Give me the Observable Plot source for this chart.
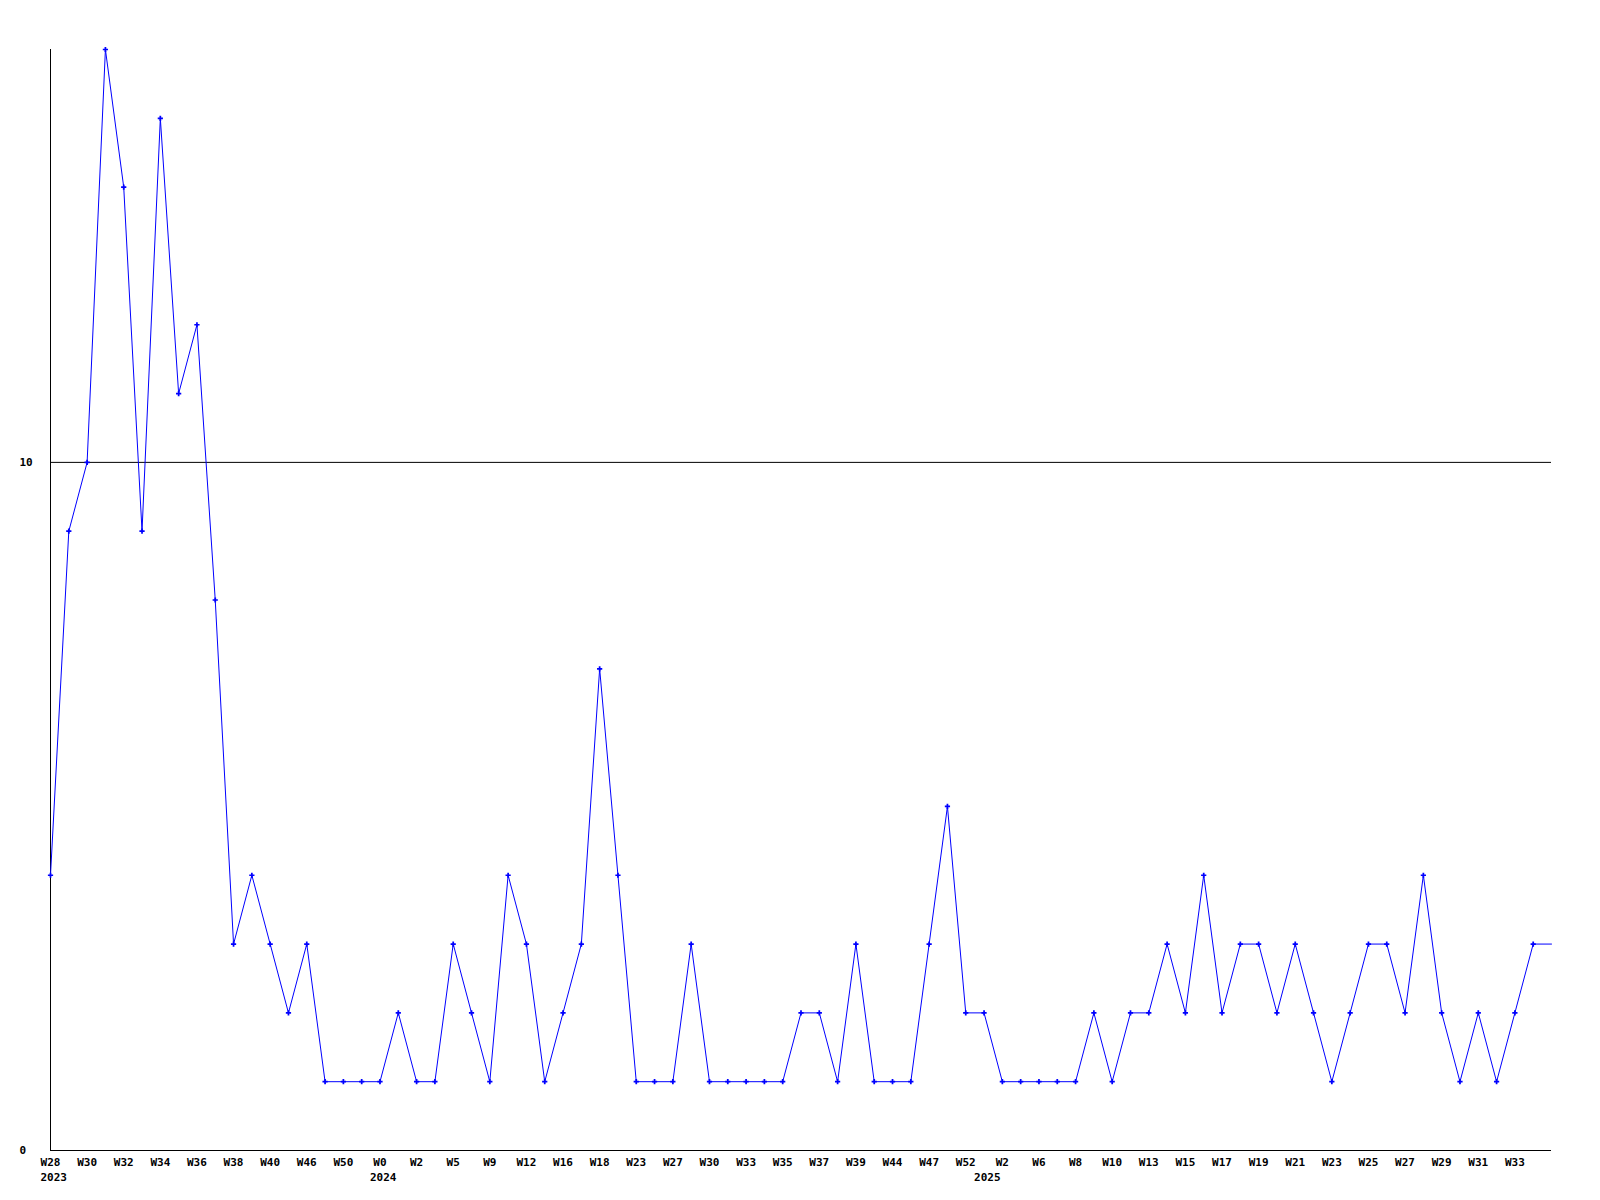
<!DOCTYPE html>
<html>
<head>
<meta charset="utf-8">
<script src="https://cdn.jsdelivr.net/npm/d3@7"></script>
<script src="https://cdn.jsdelivr.net/npm/@observablehq/plot@0.6"></script>
<style>
  html, body { margin: 0; padding: 0; background: #fff; }
  svg { display: block; }
</style>
</head>
<body>
<div id="chart"></div>
<script>
// Weekly counts, one per plotted point (left to right)
const values = [
  4, 9, 10, 16, 14, 9, 15, 11, 12, 8,
  3, 4, 3, 2, 3, 1, 1, 1, 1, 2,
  1, 1, 3, 2, 1, 4, 3, 1, 2, 3,
  7, 4, 1, 1, 1, 3, 1, 1, 1, 1,
  1, 2, 2, 1, 3, 1, 1, 1, 3, 5,
  2, 2, 1, 1, 1, 1, 1, 2, 1, 2,
  2, 3, 2, 4, 2, 3, 3, 2, 3, 2,
  1, 2, 3, 3, 2, 4, 2, 1, 2, 1,
  2, 3
];
// Labels shown under every second point
const weekLabels = [
  "W28","W30","W32","W34","W36","W38","W40","W46","W50","W0",
  "W2","W5","W9","W12","W16","W18","W23","W27","W30","W33",
  "W35","W37","W39","W44","W47","W52","W2","W6","W8","W10",
  "W13","W15","W17","W19","W21","W23","W25","W27","W29","W31","W33"
];
const yearLabels = ["2023", "2024", "2025"];
const yearIndex = [0, 18, 51];
const yTicks = [0, 10];

const points = values.map((v, i) => ({i, v}));
// the line continues flat to the end of the axis
const linePts = points.concat([{i: values.length, v: values[values.length - 1]}]);
const ticks = weekLabels.map((t, k) => ({i: k * 2, t}));
const years = yearLabels.map((t, k) => ({i: yearIndex[k], t}));

const font = "'DejaVu Sans Mono', 'Liberation Mono', monospace";

const chart = Plot.plot({
  width: 1600,
  height: 1200,
  marginLeft: 50,
  marginRight: 49,
  marginTop: 49,
  marginBottom: 50,
  style: {fontFamily: font, fontSize: "11px", fontWeight: "bold", background: "#fff", color: "#000"},
  x: {domain: [0, values.length], axis: null},
  y: {domain: [0, 16], axis: null},
  marks: [
    Plot.ruleY([10], {stroke: "#000", strokeWidth: 1}),
    Plot.ruleY([0], {stroke: "#000", strokeWidth: 1}),
    Plot.ruleX([0], {stroke: "#000", strokeWidth: 1}),
    Plot.line(linePts, {x: "i", y: "v", stroke: "#0000ff", strokeWidth: 1}),
    Plot.dot(points, {x: "i", y: "v", symbol: "cross", r: 2.2, fill: "#0000ff", stroke: "none"}),
    Plot.text(yTicks, {y: d => d, text: d => String(d), frameAnchor: "left", textAnchor: "start", dx: -31, fill: "#000"}),
    Plot.text(ticks, {x: "i", text: "t", frameAnchor: "bottom", lineAnchor: "middle", dy: 12, fill: "#000"}),
    Plot.text(years, {x: "i", text: "t", frameAnchor: "bottom", lineAnchor: "middle", textAnchor: "start", dx: -10, dy: 27, fill: "#000"})
  ]
});
document.getElementById("chart").appendChild(chart);
</script>
</body>
</html>
